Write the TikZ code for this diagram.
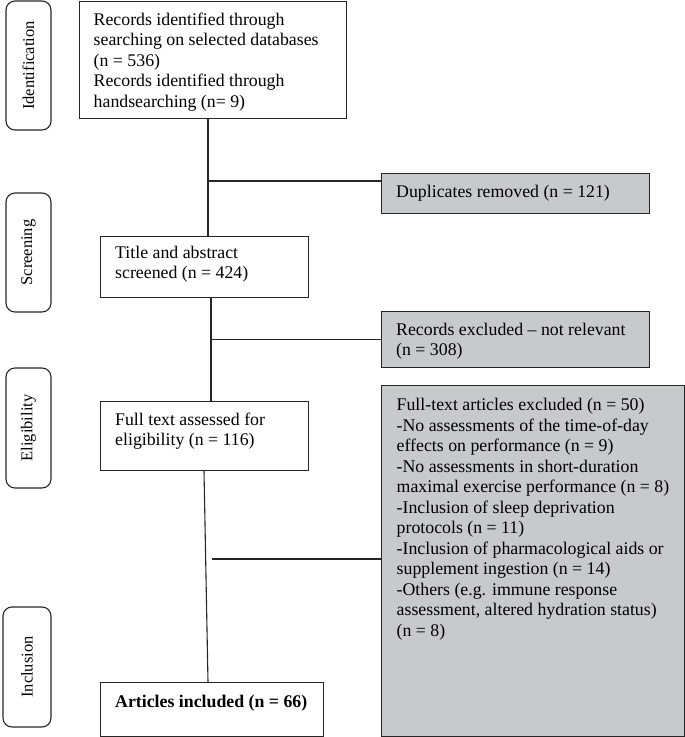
\documentclass[tikz,border=0pt]{standalone}
\usepackage{fontspec}
\setmainfont{Liberation Serif}
\definecolor{boxgray}{RGB}{200,201,203}
\begin{document}
\begin{tikzpicture}[x=1pt,y=-1pt,
  box/.style={draw=black!85, line width=1.1pt, anchor=north west, inner sep=0pt, fill=white},
  graybox/.style={box, fill=boxgray},
  txt/.style={anchor=north west, inner sep=0pt, align=left, font=\fontsize{17.8}{20.5}\selectfont},
  side/.style={draw=black!85, line width=1.1pt, rounded corners=9pt, rotate=90, inner sep=0pt,
    minimum height=45pt, font=\fontsize{16.5}{20}\selectfont},
  conn/.style={draw=black!85, line width=1.1pt}]
\useasboundingbox (0,0) rectangle (685,737);
% side labels
\node[side, minimum width=129pt] (sid) at (28.5,65.5) {Identification};
\node[side, minimum width=119pt] (sscr) at (28.5,252.5) {Screening};
\node[side, minimum width=120pt] (selg) at (28.5,428) {Eligibility};
\node[side, minimum width=120pt, minimum height=48pt] (sinc) at (27,667) {Inclusion};
% main boxes
\node[box, minimum width=267pt, minimum height=117pt] (b1) at (79,1) {};
\node[txt] (t1) at (93.5,12.5) {Records identified through\\searching on selected databases\\(n = 536)\\Records identified through\\handsearching (n= 9)};
\node[box, minimum width=208pt, minimum height=61pt] (b2) at (100,236) {};
\node[txt] (t2) at (115,245.5) {Title and abstract\\screened (n = 424)};
\node[box, minimum width=208pt, minimum height=69pt] (b3) at (100,401) {};
\node[txt] (t3) at (115,412.5) {Full text assessed for\\eligibility (n = 116)};
\node[box, minimum width=223pt, minimum height=54pt] (b4) at (100,682) {};
\node[txt, font=\fontsize{17.8}{20.5}\selectfont\bfseries] (t4) at (115,695) {Articles included (n = 66)};
% exclusion boxes
\node[graybox, minimum width=268pt, minimum height=40pt] (dup) at (381,173) {};
\node[txt] (tdup) at (396,184.5) {Duplicates removed (n = 121)};
\node[graybox, minimum width=268pt, minimum height=56pt] (rex) at (381,311) {};
\node[txt] (trex) at (396,322.5) {Records excluded -- not relevant\\(n = 308)};
\node[graybox, minimum width=303pt, minimum height=351pt] (fex) at (381,385) {};
\node[txt] (tfex) at (396.5,398) {Full-text articles excluded (n = 50)\\-No assessments of the time-of-day\\effects on performance (n = 9)\\-No assessments in short-duration\\maximal exercise performance (n = 8)\\-Inclusion of sleep deprivation\\protocols (n = 11)\\-Inclusion of pharmacological aids or\\supplement ingestion (n = 14)\\-Others (e.g. immune response\\assessment, altered hydration status)\\(n = 8)};
% connectors
\draw[conn] (208,0 |- b1.south) -- (208,0 |- b2.north);
\draw[conn] (208,181) -- (208,181 -| dup.west);
\draw[conn] (211,0 |- b2.south) -- (211,0 |- b3.north);
\draw[conn] (211,0 |- rex.west) -- (rex.west);
\draw[conn] (204,0 |- b3.south) -- (208,0 |- b4.north);
\draw[conn] (212,559) -- (212,559 -| fex.west);
\end{tikzpicture}
\end{document}
